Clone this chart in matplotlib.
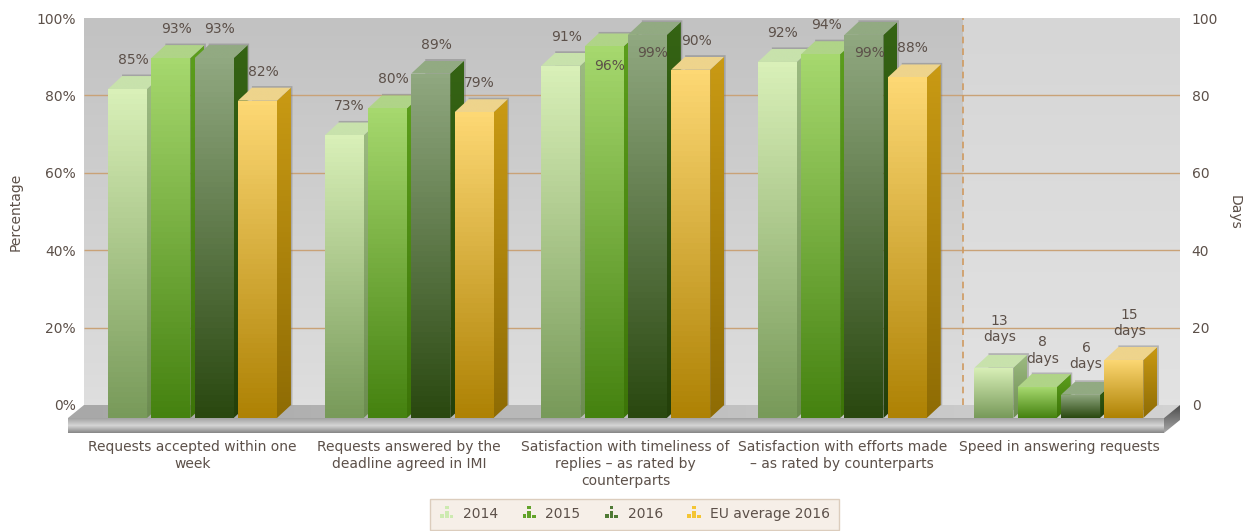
import numpy as np
import matplotlib
matplotlib.use("Agg")
import matplotlib.pyplot as plt
from matplotlib.colors import LinearSegmentedColormap
from matplotlib.legend_handler import HandlerBase
from matplotlib.patches import Patch, Polygon, Rectangle

categories = [
    "Requests accepted within one\nweek",
    "Requests answered by the\ndeadline agreed in IMI",
    "Satisfaction with timeliness of\nreplies \u2013 as rated by\ncounterparts",
    "Satisfaction with efforts made\n\u2013 as rated by counterparts",
    "Speed in answering requests",
]
series_names = ["2014", "2015", "2016", "EU average 2016"]
v2014 = [85, 73, 91, 92, 13]
v2015 = [93, 80, 96, 94, 8]
v2016 = [93, 89, 99, 99, 6]
v_eu = [82, 79, 90, 88, 15]
percent_ticks = [0, 20, 40, 60, 80, 100]

W, H = 1255, 531
TEXT = "#5c5049"
# pixel box of the back wall; bars stand on the front plane, shifted from it
WALL = (84, 1180, 18, 405)
PX_PER_CAT = 216.6
PX_PER_UNIT = (WALL[3] - WALL[2]) / 100
WALL_DX, WALL_DY = 16 / PX_PER_CAT, 13 / PX_PER_UNIT
SIDE_DX = 14 / PX_PER_CAT
BAR_W, BAR_STEP = 39 / PX_PER_CAT, 43.3 / PX_PER_CAT

# front top, front bottom, side top, side bottom, top face
STYLES = [
    ("#d9f0b8", "#789a5a", "#9dbb82", "#6c8c50", "#c8e2ac"),
    ("#a6d86e", "#458210", "#5c9e1c", "#3c7408", "#b0d488"),
    ("#90a880", "#2a4810", "#356414", "#24400a", "#92aa82"),
    ("#fdd874", "#ae8204", "#c99a14", "#8f6c04", "#eed48c"),
]
# labels pushed off their usual spot because the top of the wall is close
LABEL_SHIFT = {(2, 1): 49, (2, 2): 47, (3, 2): 47}
DAYS_SHIFT = [3.5, 1.5, 3.5, 2]

plt.rcParams["font.family"] = "DejaVu Sans"
plt.rcParams["font.size"] = 10


def gradient(ax, verts, colors, z, horizontal=False):
    """Fill a polygon (data coords) with a linear gradient, may leave the axes."""
    verts = np.array(verts)
    patch = Polygon(verts, closed=True, transform=ax.transData, fc="none", ec="none")
    ax.add_patch(patch)
    patch.set_clip_on(False)
    cmap = LinearSegmentedColormap.from_list("g", colors)
    ramp = np.linspace(0, 1, 64).reshape(-1, 1)
    if horizontal:
        ramp = ramp.T
    im = ax.imshow(ramp, cmap=cmap, vmin=0, vmax=1, aspect="auto", zorder=z,
                   extent=(verts[:, 0].min(), verts[:, 0].max(),
                           verts[:, 1].min(), verts[:, 1].max()))
    im.set_clip_box(fig.bbox)
    im.set_clip_path(patch)


class HandlerIcon(HandlerBase):
    # the tiny three-bar icon used in the legend
    def create_artists(self, legend, orig, x0, y0, width, height, fontsize, trans):
        color = orig.get_facecolor()
        out = []
        for i, h in enumerate([0.55, 1.0, 0.4]):
            out.append(Rectangle((x0 + 1 + i * 3.4, y0), 2.8, height * h * 0.8,
                                 fc=color, ec="none", transform=trans))
        out.append(Rectangle((x0 + 4.4, y0 + height * 0.92), 2.8, 2.4,
                             fc=color, ec="none", transform=trans))
        return out


fig = plt.figure(figsize=(W / 100, H / 100), dpi=100)
ax = fig.add_axes([WALL[0] / W, 1 - WALL[3] / H, (WALL[1] - WALL[0]) / W,
                   (WALL[3] - WALL[2]) / H])
ax.set_autoscale_on(False)
x_left = (WALL[0] - 208.5) / PX_PER_CAT
x_right = (WALL[1] - 208.5) / PX_PER_CAT
ax.set_xlim(x_left, x_right)
ax.set_ylim(0, 100)

# back wall, darker on the percentage side
x_split = (963 - 208.5) / PX_PER_CAT
gradient(ax, [(x_left, 0), (x_split, 0), (x_split, 100), (x_left, 100)],
         ["#c2c2c2", "#dedede"], 0)
gradient(ax, [(x_split, 0), (x_right, 0), (x_right, 100), (x_split, 100)],
         ["#d6d6d6", "#e2e2e2"], 0)
ax.hlines(percent_ticks[1:-1], x_left, x_right, color="#c9a277", lw=1, zorder=1)
ax.vlines(x_split, 0, 100, color="#cf9a60", lw=1.2, ls=(0, (4, 3)), zorder=1)

# floor, front band and the right end of the floor
x_fl, x_fr = x_left - WALL_DX, x_right - WALL_DX
band = 15 / PX_PER_UNIT
gradient(ax, [(x_fl, -WALL_DY), (x_left, 0), (x_right, 0), (x_fr, -WALL_DY)],
         ["#a8a8a8", "#d2d2d2"], 2, horizontal=True)
gradient(ax, [(x_fl, -WALL_DY), (x_fr, -WALL_DY), (x_fr, -WALL_DY - band), (x_fl, -WALL_DY - band)],
         ["#a2a2a2", "#d6d6d6", "#868686"], 2)
gradient(ax, [(x_fr, -WALL_DY), (x_right, 0), (x_right, -band), (x_fr, -WALL_DY - band)],
         ["#4c4c4c", "#a8a8a8"], 2)

# bars
all_values = [v2014, v2015, v2016, v_eu]
x = np.arange(len(categories), dtype=float)
z = 3
for c in range(len(categories)):
    for s, values in enumerate(all_values):
        front, bottom, side, side_b, top = STYLES[s]
        v = values[c]
        x0 = x[c] - WALL_DX + (s - 1.5) * BAR_STEP - BAR_W / 2
        x1 = x0 + BAR_W
        y0 = -WALL_DY
        y1 = y0 + v
        px = 1 / PX_PER_CAT
        # soft shadow behind the bar
        ax.add_patch(Polygon([(x0 + SIDE_DX, y1 + WALL_DY + 0.4), (x1 + SIDE_DX + 1.5 * px, y1 + WALL_DY + 0.4),
                              (x1 + SIDE_DX + 1.5 * px, y0 + WALL_DY), (x0 + SIDE_DX, y0)],
                             fc="#707070", ec="none", alpha=0.4, zorder=z, clip_on=False))
        gradient(ax, [(x1, y0), (x1 + SIDE_DX, y0 + WALL_DY), (x1 + SIDE_DX, y1 + WALL_DY), (x1, y1)],
                 [side, side_b], z + 0.1)
        gradient(ax, [(x0, y1), (x1, y1), (x1 + SIDE_DX, y1 + WALL_DY), (x0 + SIDE_DX, y1 + WALL_DY)],
                 [top, top], z + 0.2)
        gradient(ax, [(x0, y0), (x1, y0), (x1, y1), (x0, y1)], [front, bottom], z + 0.3)
        z += 1

# value labels
for c in range(len(categories)):
    for s, values in enumerate(all_values):
        v = values[c]
        xc = x[c] - WALL_DX + (s - 1.5) * BAR_STEP + 5.5 / PX_PER_CAT
        if c < 4:
            text = f"{v}%"
            off = 29 - LABEL_SHIFT.get((c, s), 0)
        else:
            text = f"{v}\ndays"
            off = 35 + DAYS_SHIFT[s]
        ax.annotate(text, (xc, v - WALL_DY), xytext=(0, off * 0.72), textcoords="offset points",
                    ha="center", va="center", color=TEXT, fontsize=10, linespacing=1.2,
                    zorder=500, annotation_clip=False)

for side in ax.spines.values():
    side.set_visible(False)
ax.set_xticks(x - WALL_DX, categories)
ax.tick_params(axis="x", length=0, pad=25, colors=TEXT, labelsize=10)
for lab in ax.get_xticklabels():
    lab.set_linespacing(1.3)
ax.set_yticks(percent_ticks, [f"{t}%" for t in percent_ticks])
ax.tick_params(axis="y", length=0, pad=6, colors=TEXT, labelsize=10)
fig.text(16 / W, 1 - 212 / H, "Percentage", rotation=90, ha="center", va="center",
         color=TEXT, fontsize=10)

ax2 = ax.twinx()
ax2.set_ylim(0, 100)
ax2.set_yticks(percent_ticks)
ax2.tick_params(axis="y", length=0, pad=8.5, colors=TEXT, labelsize=10)
for side in ax2.spines.values():
    side.set_visible(False)
ax2.patch.set_visible(False)
fig.text(1235 / W, 1 - 212 / H, "Days", rotation=270, ha="center", va="center",
         color=TEXT, fontsize=10)

icon_colors = ["#cdeab0", "#62a32a", "#4f7a35", "#f4c534"]
handles = [Patch(facecolor=col, label=name) for col, name in zip(icon_colors, series_names)]
leg = fig.legend(handles=handles, ncol=4, loc="lower center",
                 bbox_to_anchor=(634.5 / W, -0.0106), frameon=True, fancybox=False,
                 facecolor="#f6efe8", edgecolor="#dccdbd", framealpha=1, fontsize=10,
                 labelcolor=TEXT, columnspacing=1.65, handlelength=1.2, handletextpad=0.55,
                 borderpad=0.6, handler_map={Patch: HandlerIcon()})

fig.savefig("out.png", dpi=100)
